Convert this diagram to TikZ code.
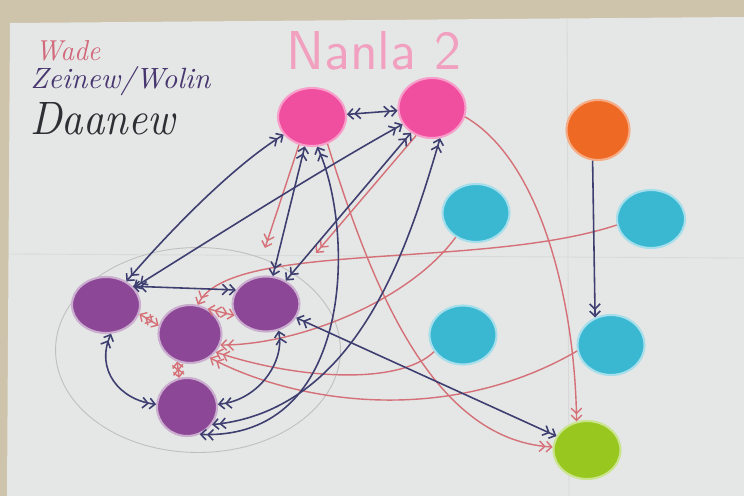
\documentclass[tikz,border=0pt]{standalone}
\usetikzlibrary{arrows.meta,shapes.geometric}
\usepackage{graphicx}
\definecolor{wall}{RGB}{206,196,172}
\definecolor{paper}{RGB}{228,231,229}
\definecolor{pinkc}{RGB}{240,78,158}
\definecolor{orangec}{RGB}{238,106,36}
\definecolor{cyanc}{RGB}{58,184,210}
\definecolor{greenc}{RGB}{152,200,32}
\definecolor{purplec}{RGB}{140,72,150}
\definecolor{navyc}{RGB}{62,62,112}
\definecolor{redc}{RGB}{214,112,120}
\definecolor{wadec}{RGB}{210,105,125}
\definecolor{zeic}{RGB}{72,54,112}
\definecolor{daac}{RGB}{46,46,52}
\definecolor{titlec}{RGB}{242,160,192}
\tikzset{
  blob/.style={ellipse,inner sep=0pt,line width=1.2pt},
  pk/.style={blob,fill=pinkc,draw=pinkc!55!white},
  og/.style={blob,fill=orangec,draw=orangec!55!white},
  cy/.style={blob,fill=cyanc,draw=cyanc!45!white},
  gr/.style={blob,fill=greenc,draw=greenc!50!white},
  pu/.style={blob,fill=purplec,draw=purplec!45!white},
  nv/.style={draw=navyc,line width=0.9pt},
  rd/.style={draw=redc,line width=0.8pt},
  fold/.style={draw=white!85!black,line width=0.5pt},
  faint/.style={draw=black!25,line width=0.5pt},
  >={Straight Barb[length=3pt,width=6pt]}
}
\begin{document}
\begin{tikzpicture}[x=0.02cm,y=-0.02cm]
\useasboundingbox (0,0) rectangle (744,496);
\fill[wall] (0,0) rectangle (744,496);
\fill[paper] (10,23) -- (744,17) -- (744,496) -- (7,496) -- cycle;
\draw[fold] (567,18) -- (569,496);
\draw[fold] (10,254) -- (744,258);
\draw[faint] (198,350) ellipse [x radius=2.85cm, y radius=2.05cm];

% legend and title
\node[anchor=south west,inner sep=0pt,text=wadec] (lw) at (35,61) {\resizebox{1.3cm}{0.4cm}{\itshape Wade}};
\node[anchor=south west,inner sep=0pt,text=zeic] (lz) at (30,96) {\resizebox{3.6cm}{0.44cm}{\itshape Zeinew/Wolin}};
\node[anchor=south west,inner sep=0pt,text=daac] (ld) at (30,135) {\resizebox{2.9cm}{0.64cm}{\itshape Daanew}};
\node[anchor=south west,inner sep=0pt,text=titlec] (tt) at (286,70) {\resizebox{3.5cm}{0.76cm}{\sffamily Nanla 2}};

% nodes
\node[pk,minimum width=1.36cm,minimum height=1.16cm] (P1) at (312,117) {};
\node[pk,minimum width=1.34cm,minimum height=1.2cm] (P2) at (432,108) {};
\node[og,minimum width=1.26cm,minimum height=1.2cm] (O) at (598,130) {};
\node[cy,minimum width=1.34cm,minimum height=1.16cm] (C1) at (476,213) {};
\node[cy,minimum width=1.36cm,minimum height=1.16cm] (C2) at (651,219) {};
\node[cy,minimum width=1.34cm,minimum height=1.18cm] (C3) at (463,335) {};
\node[cy,minimum width=1.34cm,minimum height=1.2cm] (C4) at (611,345) {};
\node[gr,minimum width=1.34cm,minimum height=1.16cm] (G) at (587,450) {};
\node[pu,minimum width=1.36cm,minimum height=1.12cm] (U1) at (106,305) {};
\node[pu,minimum width=1.26cm,minimum height=1.16cm] (U2) at (190,334) {};
\node[pu,minimum width=1.34cm,minimum height=1.1cm] (U3) at (266,304) {};
\node[pu,minimum width=1.2cm,minimum height=1.16cm] (U4) at (187,407) {};

\coordinate (a1) at (265,248);
\coordinate (a2) at (316,253);

% red connectors
\draw[rd,->>] (P1.-115) -- (a1);
\draw[rd,->>] (P2.-120) -- (a2);
\draw[rd,->>] (P2.-15) .. controls (540,160) and (575,300) .. (G.110);
\draw[rd,->>] (P1.-60) .. controls (370,280) and (430,440) .. (G.175);
\draw[rd,->>] (C2.190) .. controls (480,270) and (230,240) .. (U2.75);
\draw[rd,->>] (C1.230) .. controls (410,300) and (300,345) .. (U2.-20);
\draw[rd,->>] (C3.210) .. controls (400,385) and (300,380) .. (U2.-35);
\draw[rd,->>] (C4.190) .. controls (450,425) and (300,405) .. (U2.-50);
\draw[rd,<<->>] (U1.-15) -- (U2.165);
\draw[rd,<<->>] (U2.-115) -- (U4.105);
\draw[rd,<<->>] (U2.55) -- (U3.200);

% navy connectors
\draw[nv,<<->>] (P1) -- (P2);
\draw[nv,<<->>] (U1) .. controls (175,225) and (235,165) .. (P1);
\draw[nv,<<->>] (U1) .. controls (210,240) and (320,170) .. (P2);
\draw[nv,<<->>] (U1.35) -- (U3.155);
\draw[nv,<<->>] (U1.-80) .. controls (95,370) and (120,400) .. (U4.175);
\draw[nv,<<->>] (P1) -- (U3);
\draw[nv,<<->>] (P2) -- (U3);
\draw[nv,<<->>] (P1.-80) .. controls (355,230) and (355,440) .. (U4.-65);
\draw[nv,<<->>] (P2.-75) .. controls (410,240) and (360,410) .. (U4.-35);
\draw[nv,<<->>] (U4.5) .. controls (260,400) and (285,360) .. (U3.-65);
\draw[nv,<<->>] (U3) -- (G);
\draw[nv,->>] (O.-100) -- (C4.120);
\end{tikzpicture}
\end{document}
